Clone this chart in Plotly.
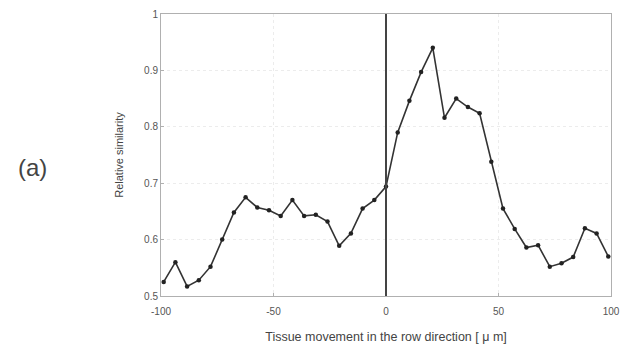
import plotly.graph_objects as go

# Displacement samples (micrometres) and the similarity measured at each
step_um = 5.2
shift_index = list(range(-19, 20))
displacement = [k * step_um for k in shift_index]
similarity = [
    0.525, 0.560, 0.517, 0.528, 0.552, 0.600, 0.648, 0.675, 0.657, 0.652,
    0.642, 0.670, 0.642, 0.644, 0.632, 0.589, 0.611, 0.655, 0.670, 0.694,
    0.790, 0.846, 0.897, 0.940, 0.816, 0.850, 0.835, 0.824, 0.738, 0.655,
    0.619, 0.586, 0.590, 0.552, 0.558, 0.569, 0.620, 0.611, 0.570,
]

x_ticks = [-100, -50, 0, 50, 100]
x_tick_text = ["-100", "-50", "0", "50", "100"]
y_ticks = [0.5, 0.6, 0.7, 0.8, 0.9, 1.0]
y_tick_text = ["0.5", "0.6", "0.7", "0.8", "0.9", "1"]

font_family = "Liberation Sans, Arial, sans-serif"

fig = go.Figure()
fig.add_trace(go.Scatter(
    x=displacement,
    y=similarity,
    mode="lines+markers",
    line=dict(color="#333333", width=1.6),
    marker=dict(color="#222222", size=4.5, symbol="circle"),
    showlegend=False,
))

# zero-displacement reference line
fig.add_vline(x=0, line=dict(color="#444444", width=2))

axis_common = dict(
    showline=True,
    mirror=True,
    linecolor="#b0b0b0",
    linewidth=1,
    ticks="inside",
    ticklen=3,
    tickcolor="#b0b0b0",
    showgrid=True,
    gridcolor="#ececec",
    griddash="dot",
    zeroline=False,
    automargin=False,
    tickfont=dict(family=font_family, size=10, color="#555555"),
)

fig.update_xaxes(
    range=[-100, 100],
    tickvals=x_ticks,
    ticktext=x_tick_text,
    ticklabelstandoff=6,
    title=dict(
        text="Tissue movement in the row direction [ \u03bc m]",
        font=dict(family=font_family, size=12.5, color="#444444"),
        standoff=16,
    ),
    **axis_common,
)
fig.update_yaxes(
    range=[0.5, 1.0],
    tickvals=y_ticks,
    ticktext=y_tick_text,
    title=dict(
        text="Relative similarity",
        font=dict(family=font_family, size=11, color="#444444"),
        standoff=18,
    ),
    **axis_common,
)

# panel label
fig.add_annotation(
    text="(a)",
    xref="paper", yref="paper",
    x=-0.285, y=0.455,
    xanchor="center", yanchor="middle",
    showarrow=False,
    font=dict(family=font_family, size=24, color="#444444"),
)

fig.update_layout(
    width=624,
    height=354,
    margin=dict(l=161, r=13, t=14, b=58),
    paper_bgcolor="white",
    plot_bgcolor="white",
)

fig.write_html("out.html")
